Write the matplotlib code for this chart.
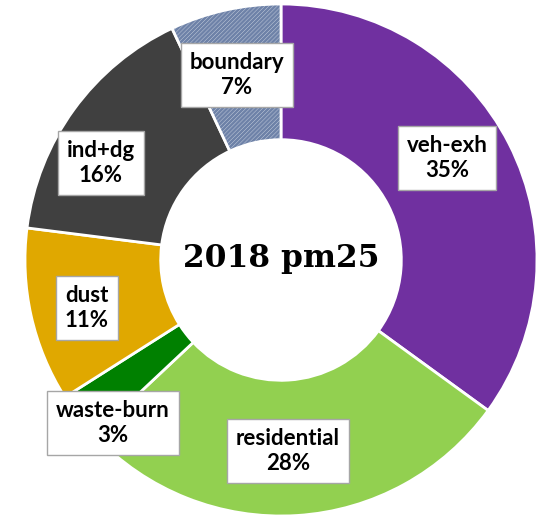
import matplotlib.pyplot as plt

plt.rcParams['hatch.linewidth'] = 0.2

# source shares of 2018 pm2.5, clockwise from the top
sources = ['veh-exh', 'residential', 'waste-burn', 'dust', 'ind+dg', 'boundary']
shares = [35, 28, 3, 11, 16, 7]
colors = ['#7030a0', '#92d050', '#008000', '#e0a800', '#404040', '#6e82a8']

# label box centres in pixel coordinates (x, y from top)
label_pos = [(447, 158), (288, 451), (113, 423), (87, 308), (101, 163), (237, 75)]

W, H = 542, 517
fig = plt.figure(figsize=(W / 100, H / 100), dpi=100)
ax = fig.add_axes([0, 0, 1, 1])

cx, cy, r = 281, H - 260, 256
wedges, _ = ax.pie(shares, colors=colors, startangle=90, counterclock=False,
                   center=(cx, cy), radius=r,
                   wedgeprops=dict(width=r * 0.53, edgecolor='white', linewidth=2))
# boundary slice drawn with a fine diagonal hatch
wedges[-1].set_hatch('////////')

for name, val, (x, y) in zip(sources, shares, label_pos):
    ax.text(x, H - y, f'{name}\n{val}%', ha='center', va='center',
            fontsize=16, fontweight='bold', family='Lato', linespacing=1.25,
            bbox=dict(boxstyle='square,pad=0.4', fc='white', ec='#a6a6a6', lw=1))

ax.text(cx, cy + 2, '2018 pm25', ha='center', va='center',
        fontsize=22.5, fontweight='bold', family='DejaVu Serif')

ax.set_xlim(0, W)
ax.set_ylim(0, H)
ax.set_aspect('auto')
ax.axis('off')
fig.savefig('out.png', dpi=100, facecolor='white')
